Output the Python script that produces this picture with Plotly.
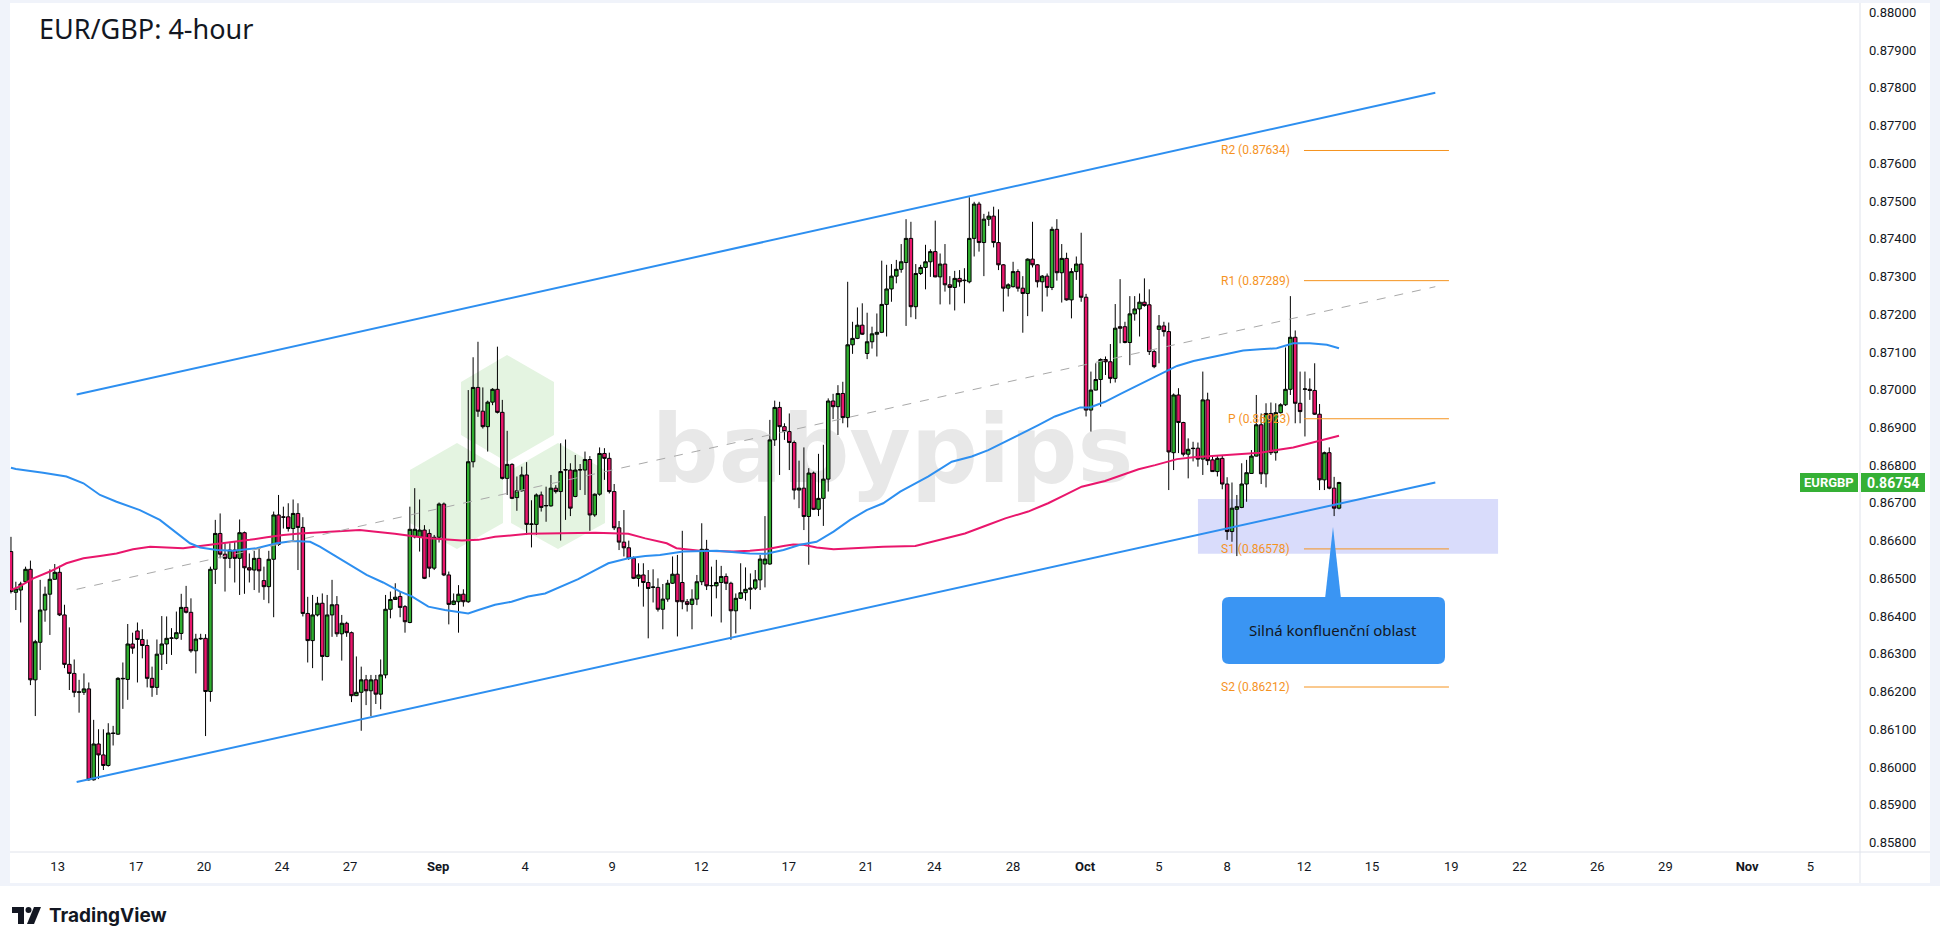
import plotly.graph_objects as go

# ---------------- data ----------------
opens = [0.86571,0.86463,0.86469,0.86491,0.86524,0.86231,0.863305,0.86416,0.86458,0.864975,
0.86516,0.86403,0.86272,0.86248,0.86198,0.86198,0.86207,0.85966,0.86061,0.86032,
0.86004,0.86090,0.86087,0.86235,0.86232,0.86326,0.863605,0.86338,0.86322,0.86235,
0.86211,0.86299,0.86326,0.86341,0.86341,0.86354,0.86423,0.86410,0.86308,0.86341,
0.86341,0.86200,0.86524,0.86619,0.86564,0.86553,0.86575,0.86553,0.86621,0.86528,
0.86522,0.86553,0.86494,0.86478,0.865505,0.86668,0.86663,0.86663,0.86632,0.86672,
0.86635,0.86407,0.86335,0.86403,0.86434,0.86293,0.86403,0.86430,0.86353,0.86381,
0.86356,0.86189,0.86198,0.86231,0.86202,0.86231,0.86193,0.86244,0.86418,0.86444,
0.86452,0.86425,0.86383,0.86610,0.86609,0.86628,0.86619,0.86527,0.86609,0.86697,
0.86509,0.86431,0.86438,0.86458,0.86438,0.86809,0.87006,0.86943,0.86902,0.86967,
0.87001,0.86940,0.86765,0.86802,0.86714,0.86732,0.86774,0.86643,0.86643,0.86721,
0.86692,0.86692,0.86739,0.86730,0.86787,0.86787,0.86717,0.86787,0.86787,0.86815,
0.86668,0.86723,0.86831,0.86818,0.86730,0.86634,0.86596,0.86581,0.86553,0.86500,
0.86509,0.86489,0.86476,0.86476,0.86418,0.86445,0.86487,0.86511,0.86489,0.86438,
0.86431,0.86445,0.86491,0.86577,0.86480,0.86480,0.86489,0.86505,0.86487,0.86414,
0.86447,0.86462,0.86471,0.86474,0.86496,0.86538,0.86538,0.86867,0.86953,0.86902,
0.86889,0.86860,0.86734,0.86739,0.86664,0.86779,0.86683,0.86712,0.86763,0.86970,
0.86955,0.86990,0.86926,0.87119,0.87136,0.87171,0.87096,0.87127,0.87147,0.87152,
0.87226,0.87267,0.87301,0.87319,0.87337,0.87401,0.87220,0.87308,0.87324,0.87339,
0.87366,0.87299,0.87333,0.87278,0.87271,0.87295,0.87289,0.87286,0.87401,0.87492,
0.87390,0.87452,0.87460,0.87390,0.87331,0.87269,0.87273,0.87313,0.87269,0.87255,
0.87346,0.87331,0.87286,0.87301,0.87271,0.87425,0.87310,0.87348,0.87238,0.87313,
0.87333,0.87245,0.86946,0.86999,0.87027,0.87080,0.87074,0.87030,0.87167,0.87167,
0.87125,0.87201,0.87214,0.87232,0.87225,0.87101,0.87160,0.87169,0.87154,0.86833,
0.86986,0.86913,0.86829,0.86845,0.86845,0.86816,0.86973,0.86814,0.86783,0.86818,
0.86750,0.86624,0.86683,0.86688,0.86750,0.86778,0.86824,0.86907,0.86777,0.86937,
0.86833,0.86939,0.86960,0.87001,0.87139,0.86964,0.87001,0.87001,0.86998,0.86935,
0.86761,0.86833,0.86739,0.86686]

highs = [0.86610,0.86491,0.86491,0.86531,0.86547,0.86337,0.86496,0.86478,0.86524,0.86538,
0.86533,0.86430,0.86370,0.86285,0.86231,0.86248,0.86224,0.86125,0.86100,0.86100,
0.86116,0.86109,0.86238,0.86277,0.86379,0.86356,0.86383,0.86365,0.86338,0.86266,
0.86338,0.86400,0.86399,0.86368,0.86412,0.86459,0.86480,0.86447,0.86353,0.86353,
0.86352,0.86531,0.86655,0.86672,0.86593,0.86593,0.86597,0.86656,0.86624,0.86566,
0.86573,0.86580,0.86531,0.86573,0.86677,0.86721,0.86690,0.86699,0.86709,0.86699,
0.86662,0.86451,0.86456,0.86451,0.86460,0.86456,0.86496,0.86453,0.86403,0.86385,
0.86359,0.86293,0.86266,0.86244,0.86244,0.86244,0.86285,0.86456,0.86465,0.86487,
0.86465,0.86429,0.86690,0.86739,0.86709,0.86641,0.86630,0.86615,0.86701,0.86701,
0.86518,0.86460,0.86482,0.86471,0.86999,0.87086,0.87127,0.87006,0.86971,0.87004,
0.87114,0.86973,0.86891,0.86805,0.86770,0.86796,0.86808,0.86707,0.86725,0.86730,
0.86743,0.86774,0.86747,0.86858,0.86868,0.86805,0.86827,0.86803,0.86836,0.86824,
0.86725,0.86847,0.86845,0.86833,0.86750,0.86652,0.86681,0.86600,0.86558,0.86540,
0.86540,0.86522,0.86524,0.86500,0.86485,0.86496,0.86558,0.86562,0.86626,0.86445,
0.86471,0.86509,0.86646,0.86602,0.86531,0.86549,0.86533,0.86513,0.86491,0.86460,
0.86540,0.86529,0.86513,0.86522,0.86562,0.86665,0.86920,0.86971,0.86968,0.86911,
0.86937,0.86865,0.86812,0.86847,0.86792,0.86783,0.86830,0.86854,0.86977,0.86989,
0.87012,0.87021,0.87286,0.87180,0.87218,0.87229,0.87204,0.87167,0.87202,0.87342,
0.87331,0.87333,0.87344,0.87386,0.87452,0.87445,0.87333,0.87331,0.87384,0.87372,
0.87448,0.87361,0.87386,0.87301,0.87315,0.87317,0.87322,0.87510,0.87498,0.87498,
0.87466,0.87472,0.87485,0.87478,0.87333,0.87282,0.87339,0.87319,0.87301,0.87348,
0.87445,0.87333,0.87304,0.87308,0.87432,0.87452,0.87386,0.87363,0.87322,0.87353,
0.87416,0.87254,0.87048,0.87070,0.87083,0.87088,0.87121,0.87227,0.87293,0.87180,
0.87248,0.87248,0.87255,0.87295,0.87266,0.87105,0.87198,0.87180,0.87178,0.86990,
0.87004,0.86915,0.86871,0.86862,0.86860,0.87048,0.86992,0.86823,0.86824,0.86827,
0.86768,0.86754,0.86721,0.86805,0.86814,0.86840,0.86986,0.86937,0.86964,0.86966,
0.86964,0.86964,0.87112,0.87248,0.87157,0.87048,0.87048,0.87030,0.87070,0.86962,
0.86836,0.86847,0.86769,0.86756]

lows = [0.86460,0.86416,0.86383,0.86487,0.86217,0.86135,0.86257,0.86385,0.86350,0.86496,
0.86400,0.86262,0.86204,0.86185,0.86144,0.86191,0.85964,0.85964,0.85968,0.85992,
0.86001,0.86057,0.86085,0.86154,0.86178,0.86300,0.86224,0.86288,0.86211,0.86186,
0.86191,0.86257,0.86273,0.86297,0.86338,0.86337,0.86407,0.86303,0.86248,0.86337,
0.86082,0.86173,0.86485,0.86553,0.86465,0.86527,0.86489,0.86456,0.86459,0.86489,
0.86469,0.86462,0.86443,0.86434,0.86397,0.86586,0.86632,0.86624,0.86597,0.86522,
0.86399,0.86277,0.86262,0.86399,0.86229,0.86291,0.86345,0.86345,0.86282,0.86345,
0.86172,0.86188,0.86096,0.86164,0.86135,0.86167,0.86153,0.86235,0.86394,0.86443,
0.86397,0.86356,0.86381,0.86606,0.86571,0.86498,0.86503,0.86522,0.86595,0.86506,
0.86378,0.86429,0.86356,0.86425,0.86435,0.86794,0.86928,0.86897,0.86836,0.86959,
0.86937,0.86762,0.86721,0.86710,0.86679,0.86730,0.86615,0.86582,0.86615,0.86677,
0.86650,0.86690,0.86725,0.86600,0.86655,0.86665,0.86715,0.86734,0.86721,0.86626,
0.86663,0.86719,0.86761,0.86725,0.86628,0.86575,0.86558,0.86549,0.86498,0.86478,
0.86425,0.86341,0.86436,0.86412,0.86365,0.86438,0.86485,0.86346,0.86418,0.86412,
0.86365,0.86429,0.86482,0.86469,0.86399,0.86447,0.86383,0.86469,0.86337,0.86354,
0.86445,0.86441,0.86418,0.86469,0.86469,0.86476,0.86536,0.86851,0.86774,0.86867,
0.86787,0.86709,0.86686,0.86628,0.86536,0.86681,0.86665,0.86639,0.86730,0.86922,
0.86880,0.86911,0.86900,0.87095,0.87134,0.87145,0.87081,0.87109,0.87088,0.87150,
0.87141,0.87233,0.87282,0.87310,0.87169,0.87192,0.87187,0.87304,0.87266,0.87299,
0.87298,0.87226,0.87260,0.87226,0.87210,0.87273,0.87229,0.87282,0.87353,0.87366,
0.87301,0.87434,0.87377,0.87317,0.87207,0.87247,0.87271,0.87260,0.87151,0.87195,
0.87324,0.87271,0.87207,0.87247,0.87264,0.87289,0.87231,0.87236,0.87189,0.87291,
0.87233,0.86929,0.86889,0.86998,0.86955,0.87039,0.87017,0.87019,0.87123,0.87123,
0.87065,0.87183,0.87141,0.87220,0.87092,0.87057,0.87070,0.87141,0.86734,0.86787,
0.86832,0.86823,0.86765,0.86810,0.86796,0.86774,0.86800,0.86783,0.86770,0.86736,
0.86602,0.86597,0.86559,0.86686,0.86703,0.86777,0.86823,0.86750,0.86741,0.86827,
0.86812,0.86937,0.86957,0.86986,0.86911,0.86911,0.86876,0.86973,0.86933,0.86734,
0.86734,0.86736,0.86665,0.86683]

closes = [0.86465,0.86472,0.86485,0.86524,0.86231,0.86332,0.86416,0.86458,0.864975,0.86516,
0.86403,0.86272,0.86248,0.86198,0.86199,0.86207,0.85966,0.86061,0.86032,0.86004,
0.86090,0.86089,0.86235,0.86234,0.86326,0.86315,0.86338,0.86322,0.86235,0.86211,
0.86299,0.86326,0.86341,0.86342,0.86356,0.86423,0.86410,0.86308,0.86339,0.86340,
0.86200,0.86524,0.86619,0.86564,0.86553,0.86575,0.86553,0.86621,0.86528,0.86522,
0.86553,0.86520,0.86478,0.865505,0.86668,0.86590,0.86662,0.86632,0.86672,0.86635,
0.86407,0.86335,0.86403,0.86434,0.86293,0.86403,0.86430,0.86353,0.86381,0.86356,
0.86189,0.86198,0.86231,0.86202,0.86231,0.86193,0.86244,0.86418,0.86444,0.86450,
0.86423,0.86385,0.86630,0.86630,0.86628,0.86500,0.86527,0.86609,0.86697,0.86509,
0.86431,0.86440,0.86458,0.86438,0.86809,0.87006,0.86943,0.86902,0.86967,0.87001,
0.86940,0.86765,0.86802,0.86712,0.86732,0.86774,0.86643,0.86644,0.86721,0.86688,
0.86693,0.86739,0.86730,0.86783,0.86788,0.86686,0.86787,0.86788,0.86815,0.86668,
0.86723,0.86831,0.86818,0.86730,0.86634,0.86596,0.86581,0.86553,0.86500,0.86509,
0.86489,0.86473,0.86477,0.86418,0.86445,0.86487,0.86511,0.86438,0.86438,0.86431,
0.86445,0.86491,0.86577,0.86480,0.86481,0.86489,0.86505,0.86487,0.86414,0.86447,
0.86462,0.86471,0.86474,0.86496,0.86551,0.86551,0.86867,0.86953,0.86902,0.86889,
0.86860,0.86734,0.86739,0.86664,0.86779,0.86683,0.86712,0.86763,0.86970,0.86955,
0.86990,0.86926,0.87119,0.87136,0.87171,0.87147,0.87127,0.87148,0.87152,0.87226,
0.87267,0.87301,0.87319,0.87339,0.87401,0.87220,0.87308,0.87324,0.87339,0.87366,
0.87299,0.87333,0.87278,0.87271,0.87295,0.87286,0.87290,0.87401,0.87492,0.87390,
0.87452,0.87460,0.87390,0.87331,0.87269,0.87278,0.87313,0.87269,0.87255,0.87346,
0.87331,0.87286,0.87301,0.87271,0.87425,0.87310,0.87348,0.87238,0.87313,0.87333,
0.87245,0.86946,0.86999,0.87027,0.87080,0.87074,0.87030,0.87163,0.87163,0.87125,
0.87201,0.87214,0.87232,0.87223,0.87101,0.87061,0.87169,0.87154,0.86835,0.86986,
0.86913,0.86829,0.86842,0.86844,0.86816,0.86973,0.86812,0.86783,0.86818,0.86750,
0.86624,0.86686,0.86690,0.86750,0.86780,0.86824,0.86907,0.86777,0.86937,0.86833,
0.86939,0.86960,0.87001,0.87139,0.86964,0.86942,0.87002,0.86998,0.86935,0.86761,
0.86833,0.86739,0.86686,0.86754]

# bar index of each 4-hour candle (TradingView skips weekend gaps)
bars = list(range(len(opens)))

# date labels of the time axis and the bar index where each one falls
date_labels = ["13", "17", "20", "24", "27", "<b>Sep</b>", "4", "9", "12", "17", "21", "24",
               "28", "<b>Oct</b>", "5", "8", "12", "15", "19", "22", "26", "29", "<b>Nov</b>", "5"]
date_bars = [9.6, 25.7, 39.7, 55.7, 69.7, 87.8, 105.7, 123.6, 141.9, 159.9, 175.8, 189.8,
             206.0, 220.8, 236.0, 250.0, 265.8, 279.8, 296.1, 310.1, 326.1, 340.1, 356.9, 369.9]

price_ticks = [0.858, 0.859, 0.860, 0.861, 0.862, 0.863, 0.864, 0.865, 0.866, 0.867, 0.868,
               0.869, 0.870, 0.871, 0.872, 0.873, 0.874, 0.875, 0.876, 0.877, 0.878, 0.879, 0.880]

# blue moving average
ma_blue_bars = [0, 1, 6.6, 11.4, 14.9, 18.3, 21.7, 26.5, 30.6, 33.4, 36.8, 38.9, 42.3, 45.7, 50.5,
                54.6, 58.0, 61.5, 63.5, 66.3, 69.7, 73.1, 76.5, 80.0, 82.4, 85.8, 89.2, 94.0, 96.1,
                99.5, 102.9, 106.3, 109.8, 113.2, 116.6, 120.1, 122.8, 126.9, 130.4, 133.4, 138.2,
                145.1, 151.9, 155.3, 158.8, 162.2, 165.6, 169.1, 172.5, 175.9, 179.3, 182.8, 185.9,
                188.6, 193.4, 197.5, 200.9, 204.4, 207.8, 211.2, 214.6, 219.8, 221.8, 224.9, 228.3,
                231.8, 235.2, 239.7, 243.1, 246.5, 249.9, 253.3, 256.8, 260.2, 263.6, 267.0, 270.5, 273.0]
ma_blue = [0.86793, 0.86790, 0.86780, 0.86770, 0.86752, 0.86721, 0.86703, 0.86681, 0.86655, 0.86628,
           0.86593, 0.86582, 0.86575, 0.86573, 0.86580, 0.86593, 0.86599, 0.86597, 0.86584, 0.86562,
           0.86535, 0.86509, 0.86489, 0.86465, 0.86452, 0.86425, 0.86416, 0.86407, 0.86416, 0.86430,
           0.86438, 0.86452, 0.86460, 0.86478, 0.86498, 0.86522, 0.86540, 0.86553, 0.86559, 0.86562,
           0.86571, 0.86573, 0.86566, 0.86565, 0.86575, 0.86589, 0.86597, 0.86624, 0.86655, 0.86681,
           0.86699, 0.86730, 0.86752, 0.86770, 0.86809, 0.86823, 0.86840, 0.86862, 0.86884, 0.86906,
           0.86929, 0.86953, 0.86953, 0.86968, 0.86990, 0.87012, 0.87035, 0.87063, 0.87076, 0.87086,
           0.87095, 0.87104, 0.87107, 0.87110, 0.87123, 0.87123, 0.87119, 0.87110]

# magenta moving average
ma_red_bars = [0, 1.7, 4.6, 8.0, 11.4, 14.9, 18.3, 21.7, 25.1, 28.6, 32.0, 35.4, 38.9, 42.3, 45.7,
               49.1, 52.6, 56.0, 59.4, 62.8, 66.3, 69.7, 71.7, 74.5, 78.9, 85.8, 92.7, 96.1, 99.5,
               106.3, 113.2, 120.1, 126.9, 130.4, 134.8, 136.8, 141.6, 148.5, 151.9, 155.3, 158.8,
               160.8, 162.9, 165.6, 169.1, 172.5, 179.3, 185.9, 190.6, 196.1, 200.9, 204.4, 209.1,
               213.2, 216.7, 220.1, 224.9, 228.3, 231.8, 235.2, 239.7, 243.1, 249.9, 256.8, 260.2,
               263.6, 267.0, 270.5, 273.0]
ma_red = [0.86469, 0.86478, 0.86500, 0.86518, 0.86540, 0.86553, 0.86559, 0.86566, 0.86577, 0.86584,
          0.86582, 0.86580, 0.86586, 0.86591, 0.86597, 0.86602, 0.86609, 0.86615, 0.86619, 0.86621,
          0.86624, 0.86626, 0.86628, 0.86624, 0.86618, 0.86606, 0.86600, 0.86602, 0.86610, 0.86618,
          0.86619, 0.86621, 0.86618, 0.86606, 0.86593, 0.86580, 0.86573, 0.86571, 0.86573, 0.86577,
          0.86586, 0.86590, 0.86589, 0.86582, 0.86577, 0.86580, 0.86584, 0.86586, 0.86602, 0.86619,
          0.86642, 0.86659, 0.86677, 0.86699, 0.86721, 0.86743, 0.86758, 0.86774, 0.86789, 0.86800,
          0.86816, 0.86821, 0.86827, 0.86833, 0.86840, 0.86847, 0.86858, 0.86870, 0.86878]

# rising channel (two anchor points each)
channel_bars = [13.5, 292.8]
channel_upper = [0.86987, 0.87787]
channel_mid = [0.86471, 0.87273]
channel_lower = [0.85960, 0.86754]

# daily pivot points
pivot_names = ["R2", "R1", "P", "S1", "S2"]
pivot_values = [0.87634, 0.87289, 0.86923, 0.86578, 0.86212]
pivot_bars = [265.8, 295.6]

# highlighted confluence zone
zone_bars = [244.0, 305.7]
zone_prices = [0.86565, 0.86710]

symbol = "EURGBP"
last_price = closes[-1]
title_text = "EUR/GBP: 4-hour"
callout_text = "Silná konfluenční oblast"

# ---------------- styling / layout ----------------
W, H = 1940, 944
PL, PR, PT, PB = 10, 1860, 3, 852           # plot area in page pixels
X_RANGE = [-0.2, 380.1]
Y_RANGE = [0.857747, 0.880249]

GREEN = "#2fae2f"
MAGENTA = "#e9166c"
BLUE = "#2d8ff0"
ORANGE = "#f5931f"
TEXT = "#131722"
BORDER = "#e0e3eb"
OUTER = "#f0f3fa"
FONT = "Roboto, 'Noto Sans', sans-serif"


def qx(x):
    return (x - PL) / (PR - PL)


def qy(y):
    return (PB - y) / (PB - PT)


def path_px(points, close=True):
    s = "M " + " L ".join(f"{qx(x):.6f},{qy(y):.6f}" for x, y in points)
    return s + (" Z" if close else "")


def rounded_rect_px(x0, y0, x1, y1, r):
    def p(x, y):
        return f"{qx(x):.6f},{qy(y):.6f}"
    return (f"M {p(x0 + r, y0)} L {p(x1 - r, y0)} Q {p(x1, y0)} {p(x1, y0 + r)} "
            f"L {p(x1, y1 - r)} Q {p(x1, y1)} {p(x1 - r, y1)} L {p(x0 + r, y1)} "
            f"Q {p(x0, y1)} {p(x0, y1 - r)} L {p(x0, y0 + r)} Q {p(x0, y0)} {p(x0 + r, y0)} Z")


fig = go.Figure()

fig.add_trace(go.Candlestick(
    x=bars, open=opens, high=highs, low=lows, close=closes,
    increasing=dict(line=dict(color="#000000", width=1), fillcolor=GREEN),
    decreasing=dict(line=dict(color="#000000", width=1), fillcolor=MAGENTA),
    whiskerwidth=0, showlegend=False, hoverinfo="skip"))

fig.add_trace(go.Scatter(x=ma_red_bars, y=ma_red, mode="lines", line=dict(color=MAGENTA, width=2),
                         showlegend=False, hoverinfo="skip"))
fig.add_trace(go.Scatter(x=ma_blue_bars, y=ma_blue, mode="lines", line=dict(color=BLUE, width=2),
                         showlegend=False, hoverinfo="skip"))

fig.add_trace(go.Scatter(x=channel_bars, y=channel_mid, mode="lines",
                         line=dict(color="#a9a9a9", width=1, dash="dash"), showlegend=False, hoverinfo="skip"))
for yy in (channel_upper, channel_lower):
    fig.add_trace(go.Scatter(x=channel_bars, y=yy, mode="lines", line=dict(color=BLUE, width=2),
                             showlegend=False, hoverinfo="skip"))

for name, val in zip(pivot_names, pivot_values):
    fig.add_trace(go.Scatter(x=pivot_bars, y=[val, val], mode="lines", line=dict(color=ORANGE, width=1),
                             showlegend=False, hoverinfo="skip"))
    fig.add_annotation(x=pivot_bars[0] - 2.5, y=val, xref="x", yref="y", text=f"{name} ({val:.5f})",
                       showarrow=False, xanchor="right", yanchor="middle",
                       font=dict(family=FONT, size=12, color=ORANGE))

shapes = []
# confluence zone
shapes.append(dict(type="rect", xref="x", yref="y", x0=zone_bars[0], x1=zone_bars[1],
                   y0=zone_prices[0], y1=zone_prices[1], fillcolor="#d9dcfb", line=dict(width=0),
                   layer="below"))

# babypips watermark: hexagon logo + word
hexes = [
    [(507, 355), (554, 382), (554, 435), (507, 462), (461, 435), (461, 382)],
    [(457, 443), (503, 470), (503, 523), (457, 549), (410, 523), (410, 470)],
    [(558, 443), (605, 470), (605, 523), (558, 549), (511, 523), (511, 470)],
]
for hx in hexes:
    shapes.append(dict(type="path", xref="paper", yref="paper", path=path_px(hx),
                       fillcolor="#e4f4e1", line=dict(width=0), layer="below"))
shapes.append(dict(type="rect", xref="paper", yref="paper", x0=qx(640), x1=qx(1145), y0=qy(500), y1=qy(385),
                   fillcolor="rgba(0,0,0,0)", line=dict(width=0), layer="below",
                   label=dict(text="babypips", font=dict(family="'DejaVu Sans', sans-serif", size=94,
                                                         color="#e8e8e8", weight="bold"),
                              textposition="middle center")))

# callout bubble
shapes.append(dict(type="path", xref="paper", yref="paper",
                   path=rounded_rect_px(1222, 597, 1445, 664, 7), fillcolor="#3a95f3", line=dict(width=0)))
shapes.append(dict(type="path", xref="paper", yref="paper",
                   path=path_px([(1325, 599), (1333, 527), (1341, 599)]), fillcolor="#3a95f3", line=dict(width=0)))

# frame of the TradingView card
shapes += [
    dict(type="rect", xref="paper", yref="paper", x0=qx(0), x1=qx(10), y0=qy(886), y1=qy(0),
         fillcolor=OUTER, line=dict(width=0), layer="below"),
    dict(type="rect", xref="paper", yref="paper", x0=qx(0), x1=qx(1940), y0=qy(3), y1=qy(0),
         fillcolor=OUTER, line=dict(width=0), layer="below"),
    dict(type="rect", xref="paper", yref="paper", x0=qx(1930), x1=qx(1940), y0=qy(886), y1=qy(0),
         fillcolor=OUTER, line=dict(width=0), layer="below"),
    dict(type="rect", xref="paper", yref="paper", x0=qx(0), x1=qx(1940), y0=qy(886), y1=qy(883),
         fillcolor=OUTER, line=dict(width=0), layer="below"),
    dict(type="line", xref="paper", yref="paper", x0=qx(PR), x1=qx(PR), y0=qy(883), y1=qy(3),
         line=dict(color=BORDER, width=1)),
    dict(type="line", xref="paper", yref="paper", x0=qx(10), x1=qx(1930), y0=qy(PB), y1=qy(PB),
         line=dict(color=BORDER, width=1)),
]

# last price tag on the axis
shapes.append(dict(type="rect", xref="paper", yref="paper", x0=qx(1800), x1=qx(1858), y0=qy(492), y1=qy(473),
                   fillcolor="#35b035", line=dict(width=0)))
shapes.append(dict(type="rect", xref="paper", yref="paper", x0=qx(1861), x1=qx(1925), y0=qy(492), y1=qy(473),
                   fillcolor="#35b035", line=dict(width=0)))

# TradingView logo icon
shapes += [
    dict(type="rect", xref="paper", yref="paper", x0=qx(12), x1=qx(24), y0=qy(913), y1=qy(907),
         fillcolor="#131722", line=dict(width=0)),
    dict(type="rect", xref="paper", yref="paper", x0=qx(18), x1=qx(24), y0=qy(924), y1=qy(907),
         fillcolor="#131722", line=dict(width=0)),
    dict(type="circle", xref="paper", yref="paper", x0=qx(25.5), x1=qx(31.5), y0=qy(913), y1=qy(907),
         fillcolor="#131722", line=dict(width=0)),
    dict(type="path", xref="paper", yref="paper",
         path=path_px([(34, 907), (41, 907), (34, 924), (27, 924)]), fillcolor="#131722", line=dict(width=0)),
]

fig.update_layout(shapes=shapes)

annotations = [
    dict(x=qx(37), y=qy(29), xref="paper", yref="paper", text=title_text, showarrow=False,
         xanchor="left", yanchor="middle", font=dict(family="'Noto Sans', sans-serif", size=27, color=TEXT)),
    dict(x=qx(1333), y=qy(630), xref="paper", yref="paper", text=callout_text, showarrow=False,
         xanchor="center", yanchor="middle", font=dict(family="'Noto Sans', sans-serif", size=15, color=TEXT)),
    dict(x=qx(1829), y=qy(482.5), xref="paper", yref="paper", text=f"<b>{symbol}</b>", showarrow=False,
         xanchor="center", yanchor="middle", font=dict(family=FONT, size=13, color="white")),
    dict(x=qx(1893), y=qy(482.5), xref="paper", yref="paper", text=f"<b>{last_price:.5f}</b>", showarrow=False,
         xanchor="center", yanchor="middle", font=dict(family=FONT, size=14, color="white")),
    dict(x=qx(47), y=qy(915), xref="paper", yref="paper", text="<b>TradingView</b>", showarrow=False,
         xanchor="left", yanchor="middle", font=dict(family="Inter, Roboto, sans-serif", size=19, color=TEXT)),
]
for a in annotations:
    fig.add_annotation(**a)

fig.update_layout(
    width=W, height=H,
    margin=dict(l=PL, r=W - PR, t=PT, b=H - PB),
    paper_bgcolor="white", plot_bgcolor="white",
    showlegend=False,
    boxgap=0.1, boxgroupgap=0.2,
    xaxis=dict(range=X_RANGE, tickmode="array", tickvals=date_bars, ticktext=date_labels,
               showgrid=False, zeroline=False, showline=False, ticks="", rangeslider=dict(visible=False),
               ticklabelstandoff=5,
               tickfont=dict(family=FONT, size=13, color=TEXT), fixedrange=True),
    yaxis=dict(range=Y_RANGE, side="right", tickmode="array", tickvals=price_ticks, tickformat=".5f",
               showgrid=False, zeroline=False, showline=False, ticks="", ticklabelstandoff=8,
               tickfont=dict(family=FONT, size=13, color=TEXT), fixedrange=True),
)

fig.write_html("out.html", config={"displayModeBar": False},
               post_script="document.body.style.margin='0px';")
